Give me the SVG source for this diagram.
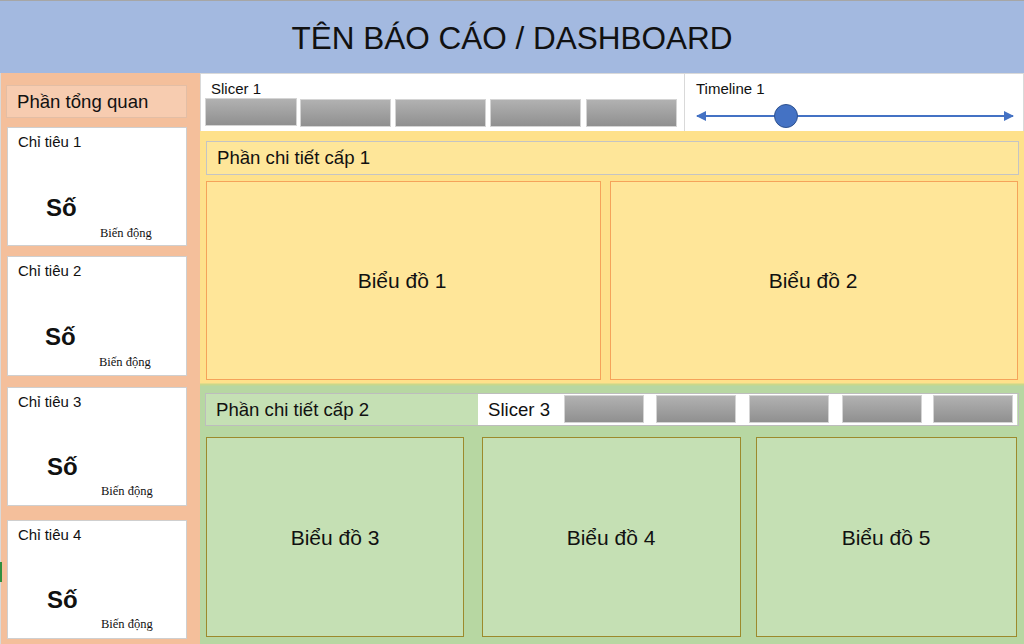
<svg xmlns="http://www.w3.org/2000/svg" width="1024" height="644" viewBox="0 0 1024 644">
<defs>
<linearGradient id="btn" x1="0" y1="0" x2="0" y2="1">
<stop offset="0" stop-color="#b2b2b2"/>
<stop offset="1" stop-color="#8f8f8f"/>
</linearGradient>
<marker id="arr" viewBox="0 0 10 10" refX="9" refY="5" markerWidth="5" markerHeight="5" orient="auto-start-reverse">
<path d="M0,0 L10,5 L0,10 z" fill="#4472c4"/>
</marker>
</defs>
<style>
text{font-family:"Liberation Sans",Arial,sans-serif;fill:#111}
.card{fill:#fff;stroke:#cfcfcf;stroke-width:1}
.ct{font-size:15px}
.so{font-size:24px;font-weight:bold}
.bd{font-family:"Liberation Serif","Times New Roman",serif;font-size:12.5px}
.btn{fill:url(#btn);stroke:#d4d4d4;stroke-width:1}
.ch1{fill:#ffe699;stroke:#f5a35a;stroke-width:1}
.ch2{fill:#c5e0b4;stroke:#9c8a2c;stroke-width:1}
.ctitle{font-size:21px;text-anchor:middle}
.sec{font-size:18.6px}
</style>
<rect x="0" y="0" width="1024" height="644" fill="#ffffff"/>
<g id="header">
<rect x="0" y="0" width="1024" height="73" fill="#a3b9e0"/>
<line x1="0" y1="0.5" x2="1024" y2="0.5" stroke="#a6a6a6"/>
<text x="512" y="49" font-size="31.5" text-anchor="middle">TÊN BÁO CÁO / DASHBOARD</text>
</g>
<g id="overview">
<rect x="0" y="73" width="200" height="571" fill="#f4bf9b"/>
<rect x="0" y="73" width="1" height="571" fill="#d9d9d9"/>
<rect x="0" y="562" width="2" height="20" fill="#2f8f3f"/>
<rect x="6.5" y="85.5" width="180" height="32" fill="#f7ccb0" stroke="#e3bea5"/>
<text x="17" y="108" class="sec">Phần tổng quan</text>
</g>
<g id="kpi1">
<rect class="card" x="7.5" y="127.5" width="179" height="118"/>
<text x="18" y="147" class="ct">Chỉ tiêu 1</text>
<text x="46" y="216" class="so">Số</text>
<text x="100" y="237" class="bd">Biến động</text>
</g>
<g id="kpi2">
<rect class="card" x="7.5" y="256.5" width="179" height="119"/>
<text x="18" y="276" class="ct">Chỉ tiêu 2</text>
<text x="45" y="345" class="so">Số</text>
<text x="99" y="366" class="bd">Biến động</text>
</g>
<g id="kpi3">
<rect class="card" x="7.5" y="387.5" width="179" height="118"/>
<text x="18" y="407" class="ct">Chỉ tiêu 3</text>
<text x="47" y="475" class="so">Số</text>
<text x="101" y="495" class="bd">Biến động</text>
</g>
<g id="kpi4">
<rect class="card" x="7.5" y="520.5" width="179" height="118"/>
<text x="18" y="540" class="ct">Chỉ tiêu 4</text>
<text x="47" y="608" class="so">Số</text>
<text x="101" y="628" class="bd">Biến động</text>
</g>
<g id="slicer1">
<rect x="200.5" y="73.5" width="484" height="58" fill="#fff" stroke="#d9d9d9"/>
<text x="211" y="94" class="ct">Slicer 1</text>
<rect class="btn" x="205.5" y="98.5" width="91" height="27"/>
<rect class="btn" x="300.5" y="99.5" width="90" height="27"/>
<rect class="btn" x="395.5" y="99.5" width="90" height="27"/>
<rect class="btn" x="490.5" y="99.5" width="90" height="27"/>
<rect class="btn" x="586.5" y="99.5" width="90" height="27"/>
</g>
<g id="timeline1">
<rect x="684.5" y="73.5" width="339" height="58" fill="#fff" stroke="#d9d9d9"/>
<text x="696" y="94" class="ct">Timeline 1</text>
<line x1="697" y1="116" x2="1013" y2="116" stroke="#4472c4" stroke-width="2" marker-start="url(#arr)" marker-end="url(#arr)"/>
<circle cx="786" cy="116" r="11.5" fill="#4472c4" stroke="#2f528f" stroke-width="1"/>
</g>
<g id="detail1">
<rect x="200" y="131" width="824" height="253" fill="#fee18b"/>
<rect x="206.5" y="141.5" width="812" height="33" fill="#fee699" stroke="#c4c4c4"/>
<text x="217" y="164" class="sec">Phần chi tiết cấp 1</text>
</g>
<g id="chart1">
<rect class="ch1" x="206.5" y="181.5" width="394" height="198"/>
<text x="402" y="288" class="ctitle">Biểu đồ 1</text>
</g>
<g id="chart2">
<rect class="ch1" x="610.5" y="181.5" width="407" height="198"/>
<text x="813" y="288" class="ctitle">Biểu đồ 2</text>
</g>
<g id="detail2">
<rect x="200" y="384" width="824" height="260" fill="#b7d7a2"/>
<line x1="200" y1="384.5" x2="1024" y2="384.5" stroke="#c9d88a" stroke-width="2"/>
<rect x="205.5" y="393.5" width="813" height="32" fill="#c5e0b4" stroke="#bdbdbd"/>
<text x="216" y="416" class="sec">Phần chi tiết cấp 2</text>
</g>
<g id="slicer3">
<rect x="478" y="394" width="539" height="31" fill="#fff"/>
<text x="488" y="416" class="sec">Slicer 3</text>
<rect class="btn" x="564.5" y="395.5" width="79" height="27"/>
<rect class="btn" x="656.5" y="395.5" width="79" height="27"/>
<rect class="btn" x="749.5" y="395.5" width="79" height="27"/>
<rect class="btn" x="842.5" y="395.5" width="79" height="27"/>
<rect class="btn" x="933.5" y="395.5" width="79" height="27"/>
</g>
<g id="chart3">
<rect class="ch2" x="206.5" y="437.5" width="257" height="199"/>
<text x="335" y="545" class="ctitle">Biểu đồ 3</text>
</g>
<g id="chart4">
<rect class="ch2" x="482.5" y="437.5" width="258" height="199"/>
<text x="611" y="545" class="ctitle">Biểu đồ 4</text>
</g>
<g id="chart5">
<rect class="ch2" x="756.5" y="437.5" width="260" height="199"/>
<text x="886" y="545" class="ctitle">Biểu đồ 5</text>
</g>
<g id="connectors"></g>
</svg>
